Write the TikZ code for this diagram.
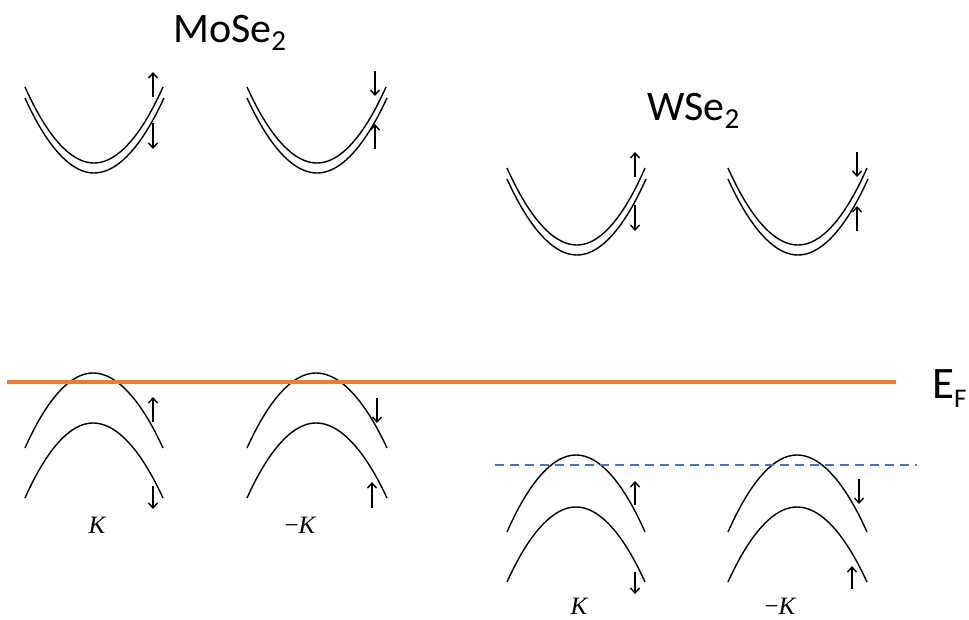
\documentclass[tikz,border=0pt]{standalone}
\usepackage{fontspec}
\setmainfont{Carlito}
\newfontfamily\kfont{Liberation Serif}
\usetikzlibrary{arrows.meta}
\definecolor{efline}{RGB}{237,125,49}
\definecolor{wline}{RGB}{68,114,196}
\begin{document}
\begin{tikzpicture}[x=1pt,y=-1pt,
  band/.style={line width=1.4pt},
  spin/.style={line width=1.4pt,-{Straight Barb[length=5pt,width=9pt]}},
  big/.style={font=\fontsize{42}{42}\selectfont, inner sep=0pt},
  klabel/.style={inner sep=0pt, anchor=base}]
\useasboundingbox (0,0) rectangle (969,619);
% ---------- labels ----------
\node[big, anchor=base west] (mose) at (173,42) {MoSe\raisebox{-8pt}{\fontsize{29}{29}\selectfont 2}};
\node[big, anchor=base west] (wse) at (647,120) {WSe\raisebox{-8pt}{\fontsize{29}{29}\selectfont 2}};
\node[font=\fontsize{45}{45}\selectfont, inner sep=0pt, anchor=base west] (ef) at (932,398) {E\raisebox{-9pt}{\fontsize{27}{27}\selectfont F}};
\node[klabel] (k1) at (97,533) {\kfont\fontsize{25}{25}\selectfont\itshape K};
\node[klabel] (k2) at (300,533) {\kfont\fontsize{25}{25}\selectfont −\itshape K};
\node[klabel] (k3) at (579,614) {\kfont\fontsize{25}{25}\selectfont\itshape K};
\node[klabel] (k4) at (780,614) {\kfont\fontsize{25}{25}\selectfont −\itshape K};
% ---------- conduction bands ----------
\draw[band] (25,87) parabola bend (94,163) (163,87);
\draw[band] (25,98) parabola bend (94,173) (164,98);
\draw[band] (247,87) parabola bend (317,163) (386,87);
\draw[band] (247,98) parabola bend (317,173) (387,98);
\draw[band] (507,168) parabola bend (577,245) (645,168);
\draw[band] (507,179) parabola bend (577,255) (646,179);
\draw[band] (728,168) parabola bend (798,245) (867,168);
\draw[band] (728,179) parabola bend (798,255) (868,179);
% ---------- valence bands ----------
\draw[band] (25,448) parabola bend (93,373) (163,448);
\draw[band] (25,498) parabola bend (93,423) (163,498);
\draw[band] (247,448) parabola bend (316,373) (387,448);
\draw[band] (247,498) parabola bend (316,423) (387,498);
\draw[band] (507,532) parabola bend (576,455) (645,532);
\draw[band] (507,582) parabola bend (576,507) (645,582);
\draw[band] (728,532) parabola bend (797,455) (867,532);
\draw[band] (728,582) parabola bend (797,507) (867,582);
% ---------- spin arrows ----------
\draw[spin] (153,97) -- (153,72);
\draw[spin] (153,123) -- (153,149);
\draw[spin] (375,71) -- (375,96);
\draw[spin] (375,149) -- (375,124);
\draw[spin] (635,177) -- (635,152);
\draw[spin] (635,205) -- (635,231);
\draw[spin] (857,152) -- (857,177);
\draw[spin] (857,231) -- (857,206);
\draw[spin] (153,422) -- (153,397);
\draw[spin] (153,486) -- (153,509);
\draw[spin] (377,398) -- (377,423);
\draw[spin] (372,508) -- (372,482);
\draw[spin] (635,505) -- (635,481);
\draw[spin] (635,572) -- (635,594);
\draw[spin] (859,479) -- (859,504);
\draw[spin] (852,589) -- (852,566);
% ---------- Fermi levels ----------
\coordinate (efa) at (7,382);
\coordinate (efb) at (896,382);
\draw[efline, line width=3.5pt] (efa) -- (efb);
\coordinate (wa) at (495,465);
\coordinate (wb) at (917,465);
\draw[wline, line width=1.5pt, dash pattern=on 9pt off 6pt] (wa) -- (wb);
\end{tikzpicture}
\end{document}
